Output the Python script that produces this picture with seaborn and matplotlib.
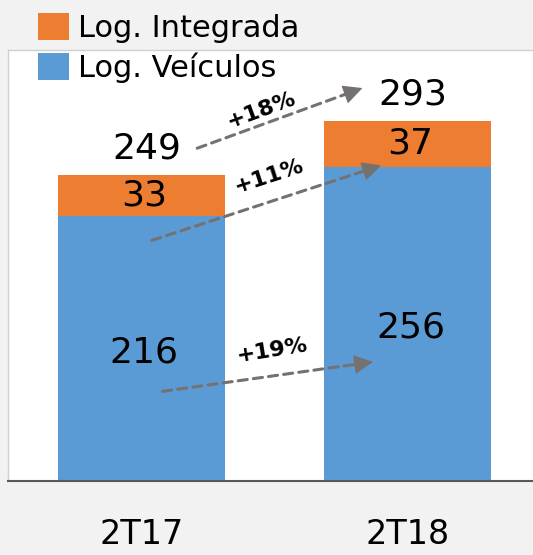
import numpy as np
import matplotlib
matplotlib.use("Agg")
import matplotlib.pyplot as plt
import seaborn as sns

categories = ["2T17", "2T18"]
log_veiculos = [216, 256]
log_integrada = [33, 37]
growth_labels = ["+19%", "+11%", "+18%"]

orange = "#ED7D31"
blue = "#5B9BD5"
bg = "#F2F2F2"
arrow_gray = "#767171"

sns.set_theme(style="white")
plt.rcParams["font.family"] = ["DejaVu Sans"]
plt.rcParams["text.color"] = "black"

totals = [v + i for v, i in zip(log_veiculos, log_integrada)]

fig = plt.figure(figsize=(5.33, 5.55), dpi=100, facecolor=bg)
ax = fig.add_axes([8 / 533, 74 / 555, 1.0, 431 / 555])
ax.set_facecolor("white")

sns.barplot(x=categories, y=totals, color=orange, width=0.625, saturation=1,
            edgecolor="none", ax=ax, label="Log. Integrada")
sns.barplot(x=categories, y=log_veiculos, color=blue, width=0.625, saturation=1,
            edgecolor="none", ax=ax, label="Log. Veículos")

ax.set_xlim(-0.5, 1.5)
ax.set_ylim(0, 351)
ax.set_yticks([])
ax.set_xlabel("")
ax.set_ylabel("")
ax.tick_params(axis="x", length=0, pad=27, labelsize=24, labelcolor="black")

for s in ["top", "left", "right"]:
    ax.spines[s].set_color("#D0D0D0")
    ax.spines[s].set_linewidth(1.0)
ax.spines["bottom"].set_color("#595959")
ax.spines["bottom"].set_linewidth(1.5)

# value labels
for i, (v, n, t) in enumerate(zip(log_veiculos, log_integrada, totals)):
    ax.text(i + 0.01, v / 2 - 3, str(v), ha="center", va="center", fontsize=26, color="black")
    ax.text(i + 0.01, v + n / 2, str(n), ha="center", va="center", fontsize=26, color="black")
    ax.text(i + 0.02, t + 22, str(t), ha="center", va="center", fontsize=26, color="black")

# growth arrows: dashed shaft + solid head
arrow_starts = [(0.08, 73), (0.04, 196), (0.21, 271)]
arrow_ends = [(0.87, 97), (0.90, 257), (0.83, 320)]
label_pos = [(0.49, 106, 9), (0.48, 248, 18), (0.45, 302, 20)]
for lbl, s, e, (lx, ly, rot) in zip(growth_labels, arrow_starts, arrow_ends, label_pos):
    ax.annotate("", xy=e, xytext=s,
                arrowprops=dict(arrowstyle="-", color=arrow_gray, lw=2.2,
                                linestyle=(0, (3, 2)), shrinkA=0, shrinkB=6))
    near = (s[0] + 0.9 * (e[0] - s[0]), s[1] + 0.9 * (e[1] - s[1]))
    ax.annotate("", xy=e, xytext=near,
                arrowprops=dict(arrowstyle="-|>,head_length=1.0,head_width=0.5",
                                color=arrow_gray, lw=1, shrinkA=0, shrinkB=0))
    ax.text(lx, ly, lbl, ha="center", va="center", fontsize=16, fontweight="bold",
            rotation=rot, color="black")

handles, labels = ax.get_legend_handles_labels()
leg = fig.legend(handles, labels, loc="upper left", bbox_to_anchor=(38 / 533, 1 - 13 / 555),
                 frameon=False, fontsize=22, handlelength=1.0, handleheight=1.0,
                 handletextpad=0.3, labelspacing=0.3, borderpad=0, borderaxespad=0)
for t in leg.get_texts():
    t.set_color("black")
if ax.legend_:
    ax.legend_.remove()

fig.savefig("out.png", dpi=100, facecolor=bg)
